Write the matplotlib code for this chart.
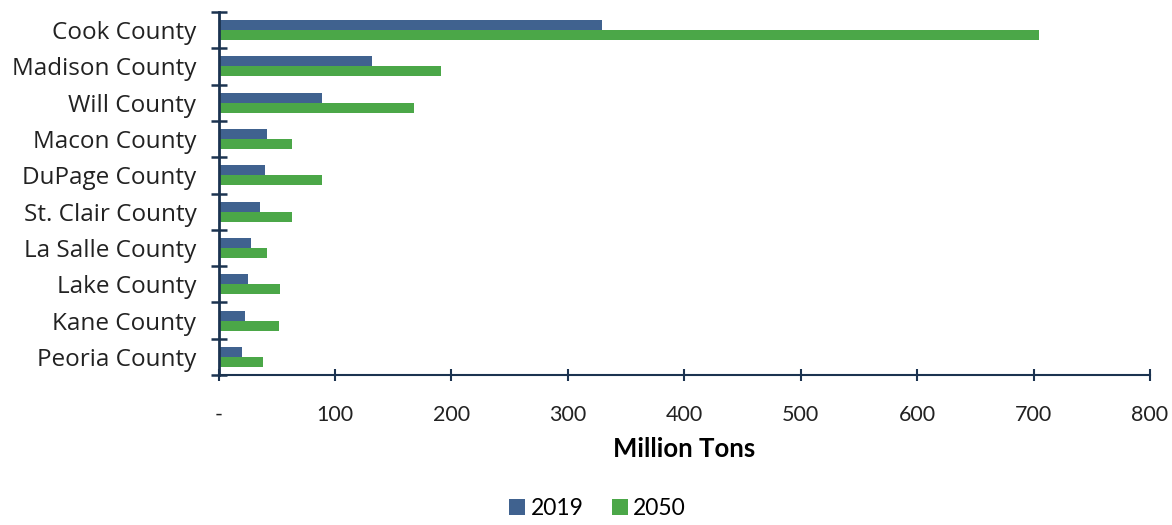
import numpy as np
import matplotlib
matplotlib.use('Agg')
import matplotlib.pyplot as plt

#### DATA ####
counties = ['Cook County', 'Madison County', 'Will County', 'Macon County',
            'DuPage County', 'St. Clair County', 'La Salle County',
            'Lake County', 'Kane County', 'Peoria County']
tons_2019 = [329, 132, 89, 42, 40, 36, 28, 25, 23, 20]
tons_2050 = [705, 191, 168, 63, 89, 63, 42, 53, 52, 38]
xticks = [0, 100, 200, 300, 400, 500, 600, 700, 800]
xtick_labels = ['-', '100', '200', '300', '400', '500', '600', '700', '800']

navy = '#1B3350'
blue = '#40628F'
green = '#4BA748'

fig = plt.figure(figsize=(11.72, 5.25), dpi=100)
ax = fig.add_axes([218.5 / 1172, 1 - 375 / 525, (1150 - 218.5) / 1172, (375 - 12) / 525])

# first category at top
y = np.arange(len(counties))[::-1]
h = 0.275
ax.barh(y + h / 2, tons_2019, height=h, color=blue, label='2019')
ax.barh(y - h / 2, tons_2050, height=h, color=green, label='2050')

ax.set_xlim(0, 800)
ax.set_ylim(-0.5, len(counties) - 0.5)

ax.set_xticks(xticks)
ax.set_xticklabels(xtick_labels, fontsize=15.5, family='Lato', color='#222222')
ax.tick_params(axis='x', direction='inout', length=9, width=1.5, color=navy, pad=17)

# category labels centred, tick marks on the boundaries
ax.set_yticks(y)
ax.set_yticklabels(counties, fontsize=17.5, family='Open Sans', color='#222222')
ax.tick_params(axis='y', which='major', length=0, pad=16)
ax.set_yticks(np.arange(-0.5, len(counties)), minor=True)
ax.tick_params(axis='y', which='minor', direction='inout', length=12, width=1.8, color=navy)

for s in ['top', 'right']:
    ax.spines[s].set_visible(False)
ax.spines['left'].set_color(navy)
ax.spines['left'].set_linewidth(2)
ax.spines['bottom'].set_color(navy)
ax.spines['bottom'].set_linewidth(1.5)

ax.set_xlabel('Million Tons', fontsize=18.5, fontweight='bold', family='Lato', labelpad=9)

fig.legend(loc='lower center', bbox_to_anchor=(0.51, -0.028), ncol=2, frameon=False,
           prop={'family': 'Lato', 'size': 16.5}, handlelength=0.7, handleheight=0.7,
           handletextpad=0.25, columnspacing=1.2)

fig.savefig('out.png', dpi=100)
